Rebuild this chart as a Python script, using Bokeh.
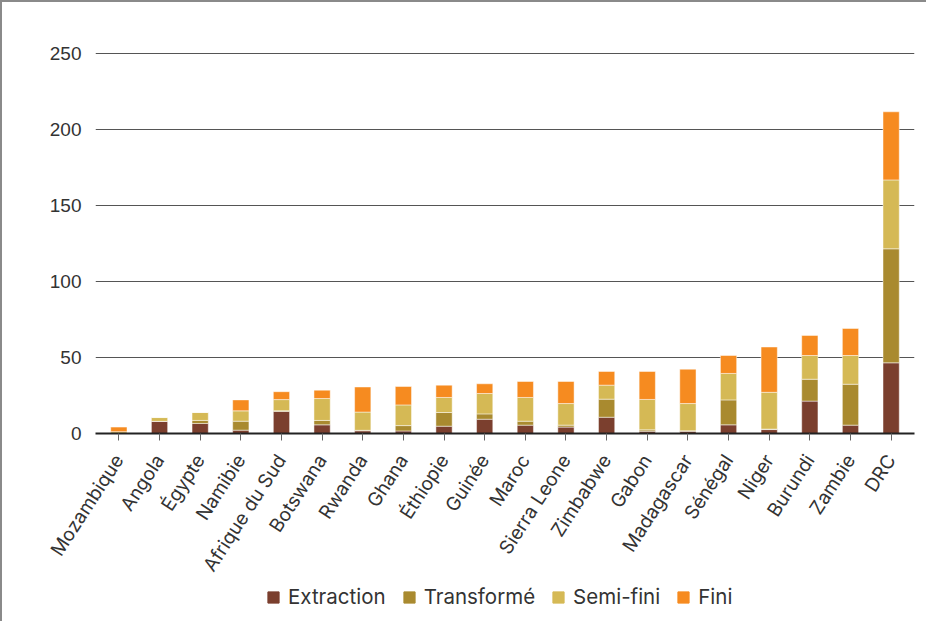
import math
from bokeh.plotting import figure
from bokeh.layouts import column
from bokeh.models import FactorRange, Range1d, FixedTicker, Legend, LegendItem
from bokeh.embed import file_html
from bokeh.resources import INLINE

countries = ["Mozambique", "Angola", "Égypte", "Namibie", "Afrique du Sud", "Botswana",
             "Rwanda", "Ghana", "Éthiopie", "Guinée", "Maroc", "Sierra Leone", "Zimbabwe",
             "Gabon", "Madagascar", "Sénégal", "Niger", "Burundi", "Zambie", "DRC"]

extraction = [0, 8.0, 6.6, 2.2, 14.5, 5.7, 1.8, 1.7, 4.8, 9.4, 5.5, 4.2, 10.7, 1.5, 1.5, 5.7, 2.6, 21.3, 5.5, 46.5]
transforme = [0, 0, 2.0, 5.9, 0.5, 2.9, 0.3, 3.5, 9.0, 3.5, 2.6, 1.3, 11.9, 0.9, 0.3, 16.4, 0.3, 14.4, 26.9, 75.0]
semi_fini = [1.2, 2.5, 5.2, 6.8, 7.3, 14.4, 12.0, 13.6, 9.9, 13.4, 15.6, 14.2, 9.2, 20.0, 17.9, 17.4, 24.2, 15.6, 18.9, 45.3]
fini = [3.0, 0, 0, 7.2, 5.2, 5.5, 16.5, 12.1, 8.1, 6.4, 10.5, 14.5, 9.0, 18.4, 22.6, 11.8, 29.8, 13.2, 17.8, 44.8]

series = ["Extraction", "Transformé", "Semi-fini", "Fini"]
colors = ["#7b3f2e", "#a98a2f", "#d5b955", "#f68b20"]
y_ticks = [0, 50, 100, 150, 200, 250]

data = {"country": countries, "Extraction": extraction, "Transformé": transforme,
        "Semi-fini": semi_fini, "Fini": fini}

p = figure(x_range=FactorRange(*countries, range_padding=0.0075),
           y_range=Range1d(0, 258.5),
           width=924, height=583, output_backend="svg", toolbar_location=None,
           min_border_left=93, min_border_right=12, min_border_top=38, min_border_bottom=152)

rs = p.vbar_stack(series, x="country", width=0.4, color=colors, source=data,
                  line_color="white", line_width=0.8, line_alpha=0.6)

p.outline_line_color = None
p.xgrid.grid_line_color = None
p.ygrid.grid_line_color = "#555555"
p.ygrid.grid_line_width = 1

p.yaxis.ticker = FixedTicker(ticks=y_ticks)
p.yaxis.axis_line_color = None
p.yaxis.major_tick_line_color = None
p.yaxis.minor_tick_line_color = None
p.yaxis.major_tick_out = 0
p.yaxis.major_tick_in = 0
p.yaxis.major_label_standoff = 14
p.yaxis.major_label_text_font = "Liberation Sans"
p.yaxis.major_label_text_font_size = "19px"
p.yaxis.major_label_text_color = "#333333"

p.xaxis.axis_line_color = "#222222"
p.xaxis.axis_line_width = 2
p.xaxis.major_tick_line_color = "#666666"
p.xaxis.major_tick_out = 7
p.xaxis.major_tick_in = 0
p.xaxis.major_label_orientation = math.radians(57)
p.xaxis.major_label_standoff = 16
p.xaxis.major_label_text_font = "Inter"
p.xaxis.major_label_text_font_size = "19px"
p.xaxis.major_label_text_color = "#333333"

# legend strip
p2 = figure(width=924, height=36, output_backend="svg", toolbar_location=None,
            x_range=Range1d(0, 1), y_range=Range1d(0, 1), min_border=0)
p2.axis.visible = False
p2.grid.visible = False
p2.outline_line_color = None
lr = [p2.vbar(x=[0.5], top=[0], bottom=[0], width=0, color=c) for c in colors]

legend = Legend(items=[LegendItem(label=s, renderers=[r]) for s, r in zip(series, lr)],
                orientation="horizontal", location=(171, 12),
                glyph_width=14, glyph_height=14, label_standoff=8, spacing=16,
                label_text_font="Inter", label_text_font_size="20.5px",
                label_text_color="#333333", label_height=20,
                padding=0, margin=0, border_line_color=None, background_fill_alpha=0)
p2.add_layout(legend, "center")

layout = column(p, p2, spacing=0,
                styles={"border-left": "2px solid #8a8a8a", "border-top": "2px solid #8a8a8a"})

open("out.html", "w").write(file_html(layout, INLINE))
